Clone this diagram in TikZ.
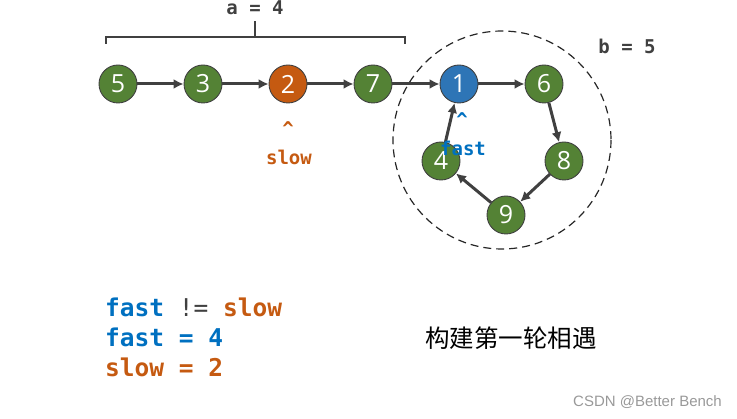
\documentclass[tikz,border=0pt]{standalone}
\usepackage{fontspec}
\setmainfont{Open Sans}
\newfontfamily\codefont{DejaVu Sans Mono}
\newfontfamily\cjk{Noto Sans CJK SC}
\newfontfamily\wmfont{Liberation Sans}
\usetikzlibrary{arrows.meta}
\definecolor{ngreen}{HTML}{548235}
\definecolor{norange}{HTML}{C55A11}
\definecolor{nblue}{HTML}{2E75B6}
\definecolor{cblue}{HTML}{0070C0}
\definecolor{dgray}{HTML}{404040}
\begin{document}
\begin{tikzpicture}[x=1pt,y=-1pt,
  lnode/.style={circle,draw=dgray,line width=0.9pt,minimum size=38pt,inner sep=0pt,text=white,font=\fontsize{25}{25}\selectfont},
  gnode/.style={lnode,fill=ngreen},
  link/.style={draw=dgray,line width=3pt,-{Latex[length=10pt,width=10pt]}},
  code/.style={font=\codefont\bfseries\fontsize{#1}{#1}\selectfont,inner sep=0pt}]
\useasboundingbox (0,0) rectangle (737,419);
\node[gnode] (n5) at (118,84) {5};
\node[gnode] (n3) at (203,84) {3};
\node[lnode,fill=norange] (n2) at (288,84) {2};
\node[gnode] (n7) at (373,84) {7};
\node[lnode,fill=nblue] (n1) at (459,84) {1};
\node[gnode] (n6) at (544,84) {6};
\node[gnode] (n8) at (564,161) {8};
\node[gnode] (n9) at (506,215) {9};
\node[gnode] (n4) at (441,161) {4};
\draw[line width=1.2pt,black!85,dash pattern=on 8pt off 5pt] (502,140) circle (109);
\draw[link] (n5) -- (n3);
\draw[link] (n3) -- (n2);
\draw[link] (n2) -- (n7);
\draw[link] (n7) -- (n1);
\draw[link] (n1) -- (n6);
\draw[link] (n6) -- (n8);
\draw[link] (n8) -- (n9);
\draw[link] (n9) -- (n4);
\draw[link] (n4) -- (n1);
% brace
\coordinate (bl) at (106,44);
\coordinate (br) at (405,44);
\coordinate (bt) at (255,21);
\draw[dgray,line width=2.2pt] (bl) -- (106,37) -- (405,37) -- (br);
\draw[dgray,line width=2.2pt] (255,37) -- (bt);
\node[code=19,text=dgray] (la) at (255,8) {a = 4};
\node[code=19,text=dgray] (lb) at (627,46) {b = 5};
% pointers
\node[code=19,text=cblue] (c1) at (462,120) {\^{}};
\node[code=19,text=cblue] (f1) at (463,148) {fast};
\node[code=19,text=norange] (c2) at (288,129) {\^{}};
\node[code=19,text=norange] (s2) at (289,157) {slow};
% bottom code
\node[code=24.5,anchor=west] (l1) at (105,307) {\textcolor{cblue}{fast} {\mdseries\textcolor{dgray}{!=}} \textcolor{norange}{slow}};
\node[code=24.5,anchor=west,text=cblue] (l2) at (105,337) {fast = 4};
\node[code=24.5,anchor=west,text=norange] (l3) at (105,367) {slow = 2};
\node[font=\cjk\fontsize{24.5}{24.5}\selectfont,inner sep=0pt] (zh) at (511,338) {构建第一轮相遇};
\node[font=\wmfont\fontsize{15}{15}\selectfont,text=black!40,anchor=east,inner sep=0pt] (wm) at (722,402) {CSDN @Better Bench};
\end{tikzpicture}
\end{document}
